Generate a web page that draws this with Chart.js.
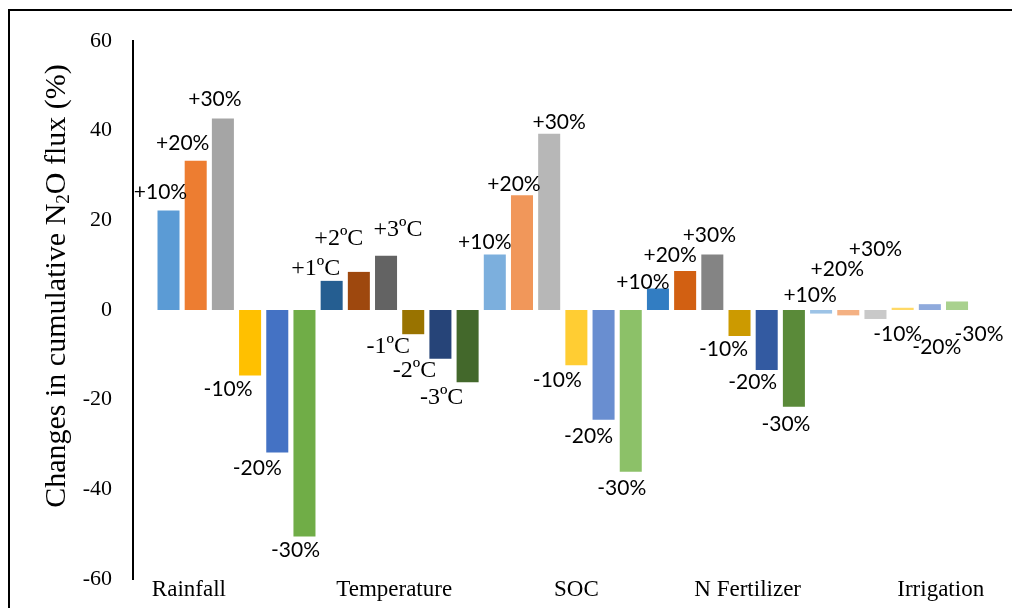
<!DOCTYPE html>
<html lang="en">
<head>
  <meta charset="UTF-8">
  <title>Changes in cumulative N2O flux</title>
  <script src="https://cdn.jsdelivr.net/npm/chart.js"></script>
  <style>
    html, body { margin: 0; padding: 0; background: #fff; overflow: hidden; }
    #wrap { position: relative; width: 1012px; height: 608px; overflow: hidden; }
    #frame { position: absolute; left: 8px; top: 9px; width: 1100px; height: 700px;
             border-left: 2px solid #000; border-top: 2px solid #000; pointer-events: none; }
    canvas { position: absolute; left: 0; top: 0; }
  </style>
</head>
<body>
  <div id="wrap">
    <canvas id="fluxChart" width="1012" height="608"></canvas>
    <div id="frame"></div>
  </div>

  <script>
    // groups along the x axis
    const groups = ["Rainfall", "Temperature", "SOC", "N Fertilizer", "Irrigation"];

    // change in cumulative N2O flux (%) for each scenario, per group
    const rainfall    = [22.2, 33.3, 42.7, -14.6, -31.8, -50.5];
    const temperature = [6.5, 8.5, 12.1, -5.4, -10.9, -16.1];
    const soc         = [12.4, 25.6, 39.3, -12.3, -24.5, -36.1];
    const nFertilizer = [4.8, 8.7, 12.4, -5.8, -13.4, -21.6];
    const irrigation  = [-0.8, -1.2, -2.0, 0.5, 1.3, 1.9];

    const pctLabels  = ["+10%", "+20%", "+30%", "-10%", "-20%", "-30%"];
    const tempLabels = ["+1ºC", "+2ºC", "+3ºC", "-1ºC", "-2ºC", "-3ºC"];
    const yTicks = [-60, -40, -20, 0, 20, 40, 60];

    // bar colours (office style palette, one per bar)
    const rainfallColors = ["#5B9BD5", "#ED7D31", "#A5A5A5", "#FFC000", "#4472C4", "#70AD47"];
    const tempColors     = ["#255E91", "#9E480E", "#636363", "#997300", "#264478", "#43682B"];
    const socColors      = ["#7CAFDD", "#F1975A", "#B7B7B7", "#FFCD33", "#698ED0", "#8CC168"];
    const fertColors     = ["#327DC2", "#D26012", "#848484", "#CC9A00", "#335AA1", "#5A8A39"];
    const irrColors      = ["#9DC3E6", "#F4B183", "#C9C9C9", "#FFD966", "#8FAADC", "#A9D18E"];

    // where the group names sit on the bar index axis
    const groupTickPos = [0.75, 8.3, 15.0, 21.3, 28.4];

    // label offsets [dx, dy] in px from bar centre / bar tip
    const labelOffsets = [
      [-8, -18], [-13, -17], [-8, -19], [-22, 14], [-20, 16], [-9, 14],
      [-16, -12], [-20, -33], [12, -26], [-25, 12], [-26, 12], [-26, 16],
      [-10, -12], [-8, -11], [10, -12], [-19, 15], [-15, 16], [-9, 16],
      [-15, -6], [-15, -16], [-3, -19], [-16, 13], [-14, 12], [-8, 17],
      [-11, -18], [-11, -46], [0, -70], [-5, 26], [7, 43], [22, 33]
    ];

    const values = [...rainfall, ...temperature, ...soc, ...nFertilizer, ...irrigation];
    const colors = [...rainfallColors, ...tempColors, ...socColors, ...fertColors, ...irrColors];
    const barLabels = [...pctLabels, ...tempLabels, ...pctLabels, ...pctLabels, ...pctLabels];
    const points = values.map((v, i) => ({ x: i, y: v }));

    const serif = "'Liberation Serif', 'Times New Roman', serif";
    const sans = "Lato, 'Liberation Sans', sans-serif";

    const barLabelPlugin = {
      id: 'barLabels',
      afterDatasetsDraw(chart) {
        const ctx = chart.ctx;
        const meta = chart.getDatasetMeta(0);
        ctx.save();
        ctx.fillStyle = '#000';
        ctx.textAlign = 'center';
        ctx.textBaseline = 'middle';
        meta.data.forEach((bar, i) => {
          const isTemp = i >= 6 && i < 12;
          ctx.font = isTemp ? "24px " + serif : "21px " + sans;
          const [dx, dy] = labelOffsets[i];
          ctx.fillText(barLabels[i], bar.x + dx, bar.y + dy);
        });
        ctx.restore();
      }
    };

    // rotated y axis title with the subscript 2 in N2O
    const yTitlePlugin = {
      id: 'yTitle',
      afterDraw(chart) {
        const ctx = chart.ctx;
        const parts = [["Changes in cumulative N", 30, 0], ["2", 19, 7], ["O flux (%)", 30, 0]];
        ctx.save();
        ctx.translate(57, 286);
        ctx.rotate(-Math.PI / 2);
        ctx.fillStyle = '#000';
        ctx.textBaseline = 'middle';
        ctx.textAlign = 'left';
        let total = 0;
        parts.forEach(p => { ctx.font = p[1] + "px " + serif; total += ctx.measureText(p[0]).width; });
        let x = -total / 2;
        parts.forEach(p => {
          ctx.font = p[1] + "px " + serif;
          ctx.fillText(p[0], x, p[2]);
          x += ctx.measureText(p[0]).width;
        });
        ctx.restore();
      }
    };

    new Chart(document.getElementById("fluxChart"), {
      type: 'bar',
      data: {
        datasets: [{
          data: points,
          backgroundColor: colors,
          barPercentage: 1,
          categoryPercentage: 0.81
        }]
      },
      options: {
        responsive: false,
        animation: false,
        layout: { padding: { top: 41, right: 12, left: 0, bottom: 0 } },
        plugins: { legend: { display: false }, tooltip: { enabled: false } },
        scales: {
          x: {
            type: 'linear',
            offset: false,
            min: -1.306,
            max: 30.58,
            grid: { display: false, drawTicks: false },
            border: { display: false },
            afterBuildTicks: s => { s.ticks = groupTickPos.map(v => ({ value: v })); },
            afterFit: s => { s.height = 29; s.paddingLeft = 0; s.paddingRight = 0; },
            ticks: {
              autoSkip: false,
              maxRotation: 0,
              padding: -3,
              color: '#000',
              font: { family: serif, size: 23 },
              callback: (v, i) => groups[i]
            }
          },
          y: {
            min: -60,
            max: 60,
            afterBuildTicks: s => { s.ticks = yTicks.map(v => ({ value: v })); },
            afterFit: s => { s.width = 133; s.paddingTop = 0; s.paddingBottom = 0; },
            grid: { display: false, drawTicks: false },
            border: { color: '#000', width: 2 },
            ticks: { padding: 21, color: '#000', font: { family: serif, size: 22 } }
          }
        }
      },
      plugins: [barLabelPlugin, yTitlePlugin]
    });
  </script>
</body>
</html>
